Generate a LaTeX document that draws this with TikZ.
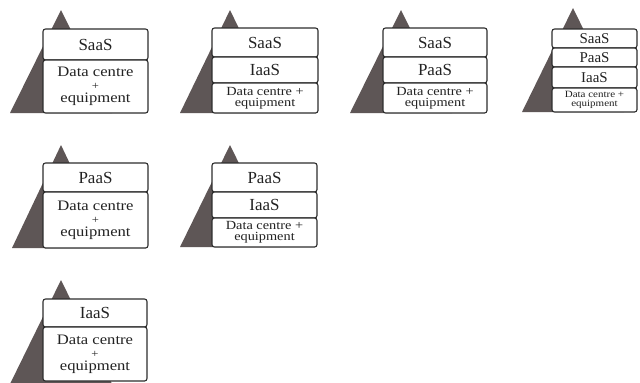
\documentclass[tikz,border=0pt]{standalone}
\usepackage{fontspec}
\setmainfont{Liberation Serif}
\newfontfamily\dcfont[FakeStretch=1.15]{Liberation Serif}
\definecolor{trigray}{HTML}{5E5656}
\definecolor{boxline}{HTML}{2E2E2E}
\definecolor{textc}{HTML}{222222}
\tikzset{
  tri/.style={fill=trigray, draw=none},
  row/.style={draw=boxline, fill=white, line width=1.1bp, rounded corners=2.5bp,
    inner sep=0pt, align=center, text=textc, anchor=center},
  lab/.style={row, font={\fontsize{17}{17}\selectfont}},
  labs/.style={row, font={\fontsize{15}{15}\selectfont}},
  dctall/.style={row, font={\dcfont\fontsize{14.5}{13}\selectfont}},
  dcsmall/.style={row, font={\dcfont\fontsize{12.5}{11.5}\selectfont}},
  dctiny/.style={row, font={\dcfont\fontsize{9.6}{8.6}\selectfont}},
}
\newcommand{\rowbox}[7]{%
  \pgfmathsetmacro{\rcx}{(#3+#5)/2}%
  \pgfmathsetmacro{\rcy}{(#4+#6)/2}%
  \pgfmathsetmacro{\rw}{#5-#3}%
  \pgfmathsetmacro{\rh}{#6-#4}%
  \node[#1, minimum width=\rw bp, minimum height=\rh bp] (#2) at (\rcx,\rcy) {#7};}
\newcommand{\pyr}[5]{\fill[tri] (#2,#3) coordinate (#1) -- (#4,#5) -- ({2*#2-#4},#5) -- cycle;}
\newcommand{\smallplus}{{\fontsize{11}{13}\selectfont +}}
\begin{document}
\begin{tikzpicture}[x=1bp, y=-1bp]
\useasboundingbox[fill=white] (0,0) rectangle (640,382);
% Diagram 1
\pyr{a1}{61}{10}{10}{113}
\rowbox{lab}{d1s}{43}{29}{148}{60}{SaaS}
\rowbox{dctall}{d1d}{43}{60}{148}{113}{Data centre\\\smallplus\\equipment}
% Diagram 2
\pyr{a2}{230}{10}{180}{113}
\rowbox{lab}{d2s}{212}{28}{318}{57}{SaaS}
\rowbox{lab}{d2i}{212}{57}{318}{83}{IaaS}
\rowbox{dcsmall}{d2d}{212}{83}{318}{113}{Data centre +\\equipment}
% Diagram 3
\pyr{a3}{401}{10}{350}{113}
\rowbox{lab}{d3s}{383}{28}{487}{57}{SaaS}
\rowbox{lab}{d3p}{383}{57}{487}{83}{PaaS}
\rowbox{dcsmall}{d3d}{383}{83}{487}{113}{Data centre +\\equipment}
% Diagram 4
\pyr{a4}{573}{8}{522}{112}
\rowbox{labs}{d4s}{552}{29}{637}{48}{SaaS}
\rowbox{labs}{d4p}{552}{48}{637}{67}{PaaS}
\rowbox{labs}{d4i}{552}{67}{637}{88}{IaaS}
\rowbox{dctiny}{d4d}{552}{88}{637}{112}{Data centre +\\equipment}
% Diagram 5
\pyr{a5}{61}{145}{12}{248}
\rowbox{lab}{d5p}{43}{163}{148}{192}{PaaS}
\rowbox{dctall}{d5d}{43}{192}{148}{248}{Data centre\\\smallplus\\equipment}
% Diagram 6
\pyr{a6}{230}{145}{180}{247}
\rowbox{lab}{d6p}{212}{163}{317}{192}{PaaS}
\rowbox{lab}{d6i}{212}{192}{317}{218}{IaaS}
\rowbox{dcsmall}{d6d}{212}{218}{317}{247}{Data centre +\\equipment}
% Diagram 7
\pyr{a7}{61}{280}{10}{384}
\rowbox{lab}{d7i}{43}{299}{147}{327}{IaaS}
\rowbox{dctall}{d7d}{43}{327}{147}{381}{Data centre\\\smallplus\\equipment}
\end{tikzpicture}
\end{document}
